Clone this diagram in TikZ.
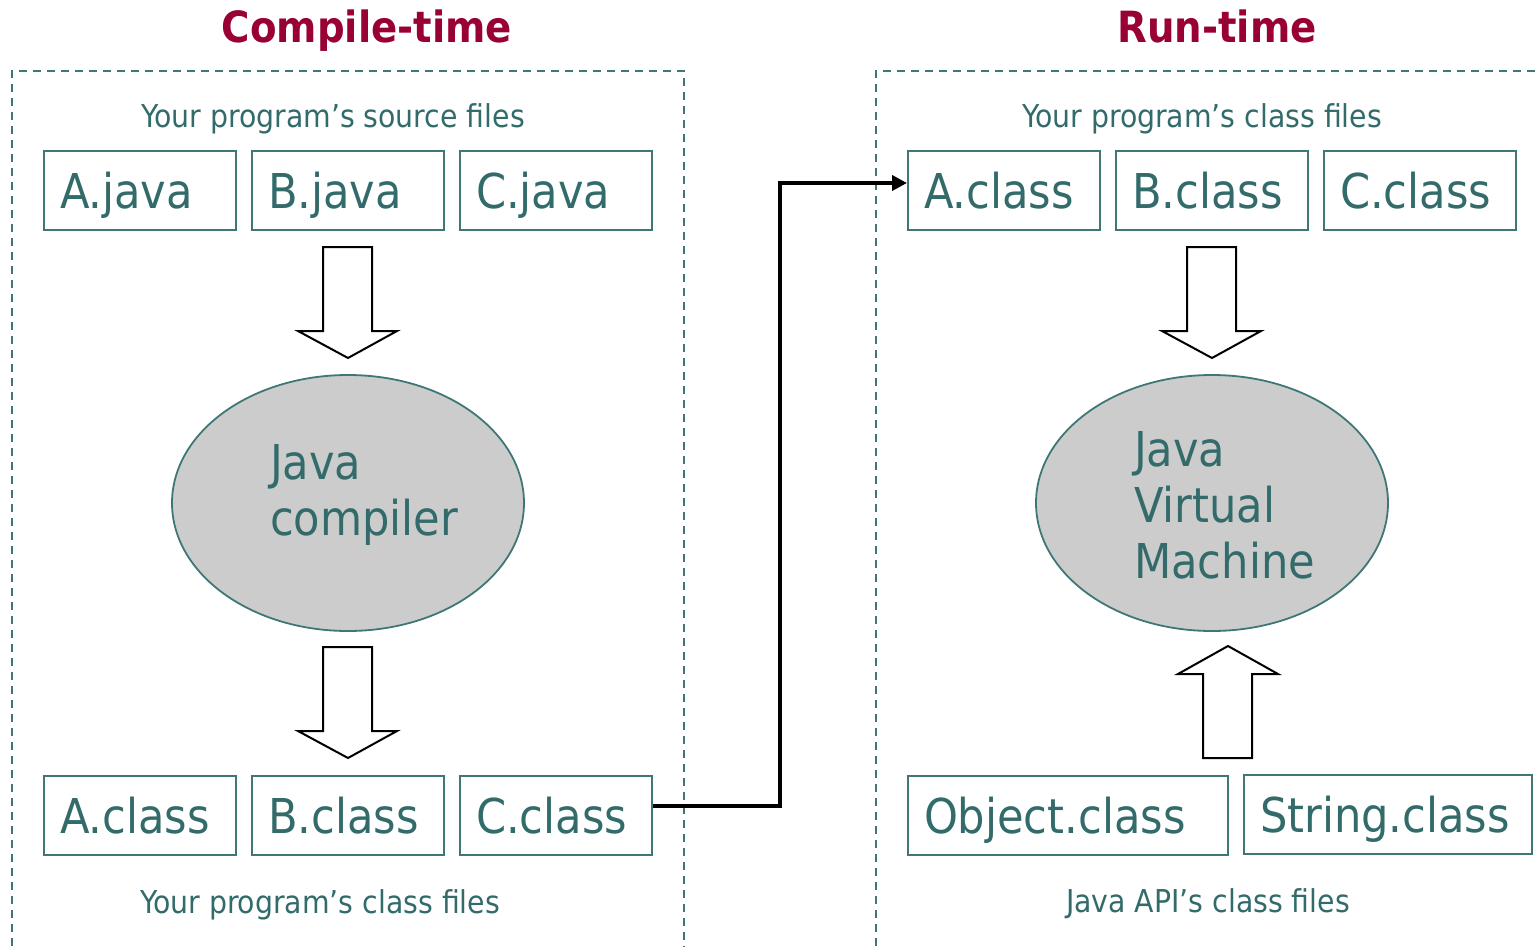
\documentclass[tikz,border=0pt]{standalone}
\usepackage{fontspec}
\setmainfont{DejaVu Sans Condensed}
\usetikzlibrary{shapes.geometric,arrows.meta}
\definecolor{teal}{HTML}{336B6B}
\definecolor{tealline}{HTML}{3F7777}
\definecolor{maroon}{HTML}{990033}
\definecolor{oval}{HTML}{CCCCCC}
\tikzset{
  title/.style={font=\bfseries\fontsize{43}{50}\selectfont, text=maroon, inner sep=0pt, anchor=base},
  caption/.style={font=\fontsize{31.5}{38}\selectfont, text=teal, inner sep=0pt, anchor=base},
  filebox/.style={draw=tealline, line width=2pt, rectangle, minimum height=79pt,
    text width=160pt, inner xsep=16pt, inner ysep=0pt, align=left, text=teal,
    text height=36pt, text depth=0pt,
    font=\fontsize{48}{56}\selectfont},
  region/.style={draw=tealline, line width=2pt, dash pattern=on 8pt off 6pt},
  engine/.style={ellipse, draw=tealline, line width=1.8pt, fill=oval,
    minimum width=352pt, minimum height=256pt, inner sep=0pt},
  enginetext/.style={align=left, text=teal, inner sep=0pt,
    font=\fontsize{48}{56}\selectfont},
  blockarrow/.style={draw=black, line width=2pt, fill=white, line join=miter},
  flow/.style={draw=black, line width=4pt, -{Triangle[length=15pt,width=15pt]}}
}
\begin{document}
\begin{tikzpicture}[x=1pt,y=-1pt]
\useasboundingbox (0,0) rectangle (1539,947);

% titles
\node[title] (ct) at (367,43) {Compile-time};
\node[title] (rt) at (1217,43) {Run-time};

% dashed regions
\draw[region] (12,960) -- (12,71) -- (684,71) -- (684,960);
\draw[region] (876,960) -- (876,71) -- (1560,71);

% compile-time side
\node[caption] (srccap) at (333,128) {Your program’s source files};
\node[filebox, minimum width=192pt, text width=160pt] (aj) at (140,190.5) {A.java};
\node[filebox, minimum width=192pt, text width=160pt] (bj) at (348,190.5) {B.java};
\node[filebox, minimum width=192pt, text width=160pt] (cj) at (556,190.5) {C.java};

\draw[blockarrow] (323,247) -- (372,247) -- (372,331) -- (397,331) -- (348,358)
  -- (298,331) -- (323,331) -- cycle;

\node[engine] (jc) at (348,503) {};
\node[enginetext, anchor=north west] (jct) at (270,444) {Java\\compiler};

\draw[blockarrow] (323,647) -- (372,647) -- (372,731) -- (397,731) -- (348,758)
  -- (298,731) -- (323,731) -- cycle;

\node[filebox, minimum width=192pt, text width=160pt] (ac) at (140,815.5) {A.class};
\node[filebox, minimum width=192pt, text width=160pt] (bc) at (348,815.5) {B.class};
\node[filebox, minimum width=192pt, text width=160pt] (cc) at (556,815.5) {C.class};
\node[caption] (clscap) at (320,913) {Your program’s class files};

% run-time side
\node[caption] (rtcap) at (1202,128) {Your program’s class files};
\node[filebox, minimum width=192pt, text width=160pt] (rac) at (1004,190.5) {A.class};
\node[filebox, minimum width=192pt, text width=160pt] (rbc) at (1212,190.5) {B.class};
\node[filebox, minimum width=192pt, text width=160pt] (rcc) at (1420,190.5) {C.class};

\draw[blockarrow] (1187,247) -- (1236,247) -- (1236,331) -- (1261,331) -- (1212,358)
  -- (1162,331) -- (1187,331) -- cycle;

\node[engine] (jvm) at (1212,503) {};
\node[enginetext, anchor=north west] (jvmt) at (1134,431) {Java\\Virtual\\Machine};

\draw[blockarrow] (1203,758) -- (1252,758) -- (1252,674) -- (1278,674) -- (1228,646)
  -- (1178,674) -- (1203,674) -- cycle;

\node[filebox, minimum width=320pt, text width=288pt] (obj) at (1068,815.5) {Object.class};
\node[filebox, minimum width=288pt, text width=256pt] (str) at (1388,814.5) {String.class};
\node[caption] (apicap) at (1208,912) {Java API’s class files};

% compiled classes handed to the run-time
\coordinate (bend) at (780,806);
\coordinate (entry) at ([yshift=7.5pt]rac.west);
\draw[flow] (cc.east |- bend) -- (bend) -- (bend |- entry) -- (entry);
\end{tikzpicture}
\end{document}
